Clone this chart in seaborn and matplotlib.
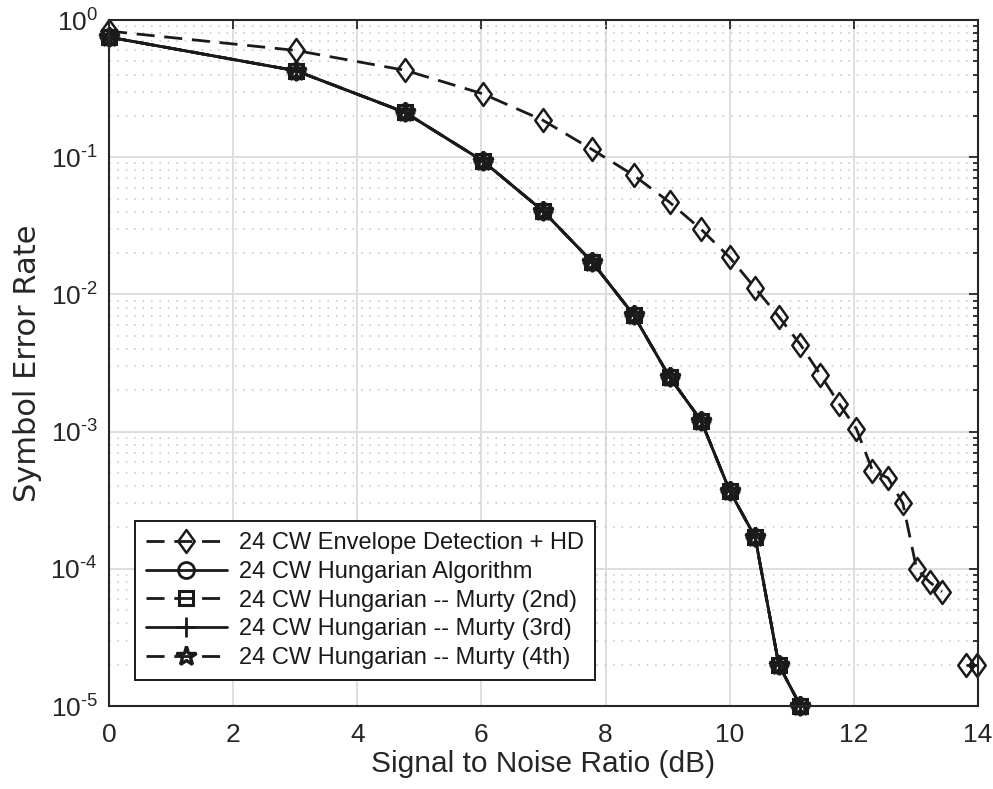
import numpy as np
import pandas as pd
import matplotlib
matplotlib.use("Agg")
import matplotlib.pyplot as plt
from matplotlib.path import Path
from matplotlib.ticker import LogLocator, FuncFormatter, NullFormatter, FixedLocator
import seaborn as sns

# SNR points (dB)
snr_db = [0.00, 3.01, 4.77, 6.02, 6.99, 7.78, 8.45, 9.03, 9.54, 10.00, 10.41,
          10.79, 11.14, 11.46, 11.76, 12.04, 12.30, 12.55, 12.79, 13.01, 13.22,
          13.42, 13.62, 13.80, 13.98]

# envelope detection + hard decision (NaN where no errors were counted)
ser_envelope = [0.83, 0.60, 0.43, 0.29, 0.186, 0.114, 0.074, 0.047, 0.0298, 0.0186,
                0.0111, 0.0069, 0.0043, 0.0026, 0.0016, 0.00105, 0.00052, 0.00046,
                0.00030, 1.0e-4, 8.0e-5, 6.8e-5, np.nan, 2.0e-5, 2.0e-5]

# Hungarian assignment and Murty k-best variants
ser_hungarian = [0.75, 0.427, 0.212, 0.094, 0.0406, 0.0173, 0.0071, 0.0025, 0.0012,
                 0.00037, 0.00017, 2.0e-5, 1.0e-5]
ser_murty2 = [0.75, 0.427, 0.212, 0.094, 0.0406, 0.0173, 0.0071, 0.0025, 0.0012,
              0.00037, 0.00017, 2.0e-5, 1.0e-5]
ser_murty3 = [0.75, 0.427, 0.212, 0.094, 0.0406, 0.0173, 0.0071, 0.0025, 0.0012,
              0.00037, 0.00017, 2.0e-5, 1.0e-5]
ser_murty4 = [0.75, 0.427, 0.212, 0.094, 0.0406, 0.0173, 0.0071, 0.0025, 0.0012,
              0.00037, 0.00017, 2.0e-5, 1.0e-5]

labels = ["24 CW Envelope Detection + HD",
          "24 CW Hungarian Algorithm",
          "24 CW Hungarian -- Murty (2nd)",
          "24 CW Hungarian -- Murty (3rd)",
          "24 CW Hungarian -- Murty (4th)"]

x_ticks = [0, 2, 4, 6, 8, 10, 12, 14]

sns.set_theme(style="white")
plt.rcParams["font.family"] = ["Liberation Sans", "DejaVu Sans"]
plt.rcParams["mathtext.fontset"] = "custom"
plt.rcParams["mathtext.rm"] = "Liberation Sans"
plt.rcParams["mathtext.it"] = "Liberation Sans:italic"
plt.rcParams["mathtext.bf"] = "Liberation Sans:bold"
plt.rcParams["mathtext.default"] = "regular"

INK = "#262626"

fig = plt.figure(figsize=(9.93, 7.89), dpi=100)
ax = fig.add_axes([109 / 993, 1 - 706 / 789, 869 / 993, 686 / 789])

# tall, narrow open diamond
diamond = Path([(0, 1), (0.72, 0), (0, -1), (-0.72, 0), (0, 1)],
               [Path.MOVETO, Path.LINETO, Path.LINETO, Path.LINETO, Path.CLOSEPOLY])

DASH = (6.5, 3.5)
LW = 2.0


def draw(xv, yv, marker, ms, dashed, label, mew=1.8):
    before = len(ax.lines)
    sns.lineplot(x=xv, y=yv, ax=ax, color="k", marker=marker, markersize=ms,
                 markerfacecolor="none", markeredgecolor="k", markeredgewidth=mew,
                 linewidth=LW, sort=False, estimator=None, label=label,
                 legend=False)
    line = ax.lines[before]
    if dashed:
        line.set_dashes(DASH)
    line.set_clip_on(False)
    return line


handles = []
env = pd.DataFrame({"snr": snr_db, "ser": ser_envelope})
head = env.iloc[:22]
tail = env.iloc[23:]
handles.append(draw(head["snr"], head["ser"], diamond, 16.5, True, labels[0]))
draw(tail["snr"], tail["ser"], diamond, 16.5, True, None)

n = len(ser_hungarian)
handles.append(draw(snr_db[:n], ser_hungarian, "o", 11.5, False, labels[1], mew=2.0))
handles.append(draw(snr_db[:n], ser_murty2, "s", 9.5, True, labels[2], mew=2.2))
handles.append(draw(snr_db[:n], ser_murty3, "+", 14, False, labels[3], mew=2.0))
handles.append(draw(snr_db[:n], ser_murty4, "*", 15, True, labels[4], mew=2.4))

ax.set_yscale("log")
ax.set_xlim(0, 14)
ax.set_ylim(1e-5, 1)
ax.xaxis.set_major_locator(FixedLocator(x_ticks))
ax.yaxis.set_major_locator(LogLocator(base=10, numticks=10))
ax.yaxis.set_minor_locator(LogLocator(base=10, subs=np.arange(2, 10), numticks=10))
ax.yaxis.set_major_formatter(
    FuncFormatter(lambda v, _: r"$10^{\text{%d}}$" % int(round(np.log10(v)))))
ax.yaxis.set_minor_formatter(NullFormatter())

ax.grid(True, which="major", color="#dedede", linewidth=1.4, linestyle="-")
ax.grid(True, which="minor", axis="y", color="#c4c4c4", linewidth=1.1,
        linestyle=(0, (1, 4.5)))
ax.set_axisbelow(True)

for s in ax.spines.values():
    s.set_color(INK)
    s.set_linewidth(1.5)
    s.set_visible(True)

ax.tick_params(which="both", direction="in", top=True, right=True,
               color=INK, width=1.3, labelcolor=INK)
ax.tick_params(which="major", length=6.5)
ax.tick_params(which="minor", length=3.8)
ax.tick_params(axis="x", labelsize=19, pad=12)
ax.tick_params(axis="y", labelsize=19, pad=8)

ax.set_xlabel("Signal to Noise Ratio (dB)", fontsize=21.5, color=INK, labelpad=2.5)
ax.set_ylabel("Symbol Error Rate", fontsize=22, color=INK, labelpad=6,
              family=["DejaVu Sans"])

leg = ax.legend(handles=handles, labels=labels, loc="lower left",
                bbox_to_anchor=(0.030, 0.038), fontsize=17, frameon=True,
                fancybox=False, framealpha=1, edgecolor="k", handlelength=3.45,
                handletextpad=0.5, labelspacing=0.29, borderpad=0.45,
                borderaxespad=0)
leg.get_frame().set_linewidth(1.4)
for t in leg.get_texts():
    t.set_color("k")

fig.savefig("out.png", dpi=100)
